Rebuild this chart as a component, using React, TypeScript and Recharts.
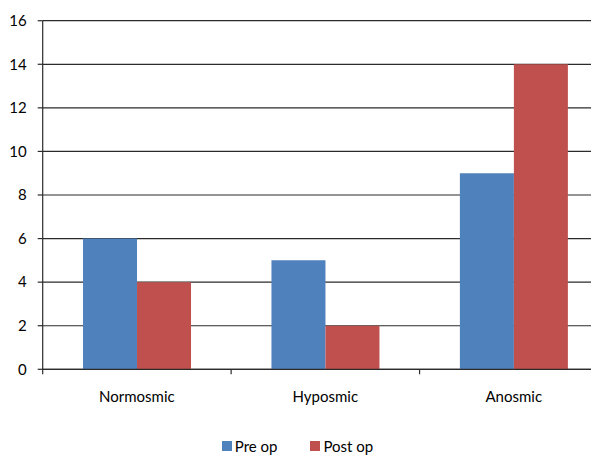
import React from 'react';
import { BarChart, Bar, XAxis, YAxis, CartesianGrid, Legend } from 'recharts';

const categories = ['Normosmic', 'Hyposmic', 'Anosmic'];
const preOp = [6, 5, 9];
const postOp = [4, 2, 14];
const yTicks = [0, 2, 4, 6, 8, 10, 12, 14, 16];
const seriesOrder = ['pre', 'post'];
const seriesNames: Record<string, string> = { pre: 'Pre op', post: 'Post op' };
const colors: Record<string, string> = { pre: '#4F81BD', post: '#C0504D' };

const data = categories.map((c, i) => ({ name: c, pre: preOp[i], post: postOp[i] }));

const FONT = 'Lato, "Open Sans", sans-serif';
const AXIS = '#2b2b2b';

const XTick = (props: any) => {
  const { x, y, payload, width } = props;
  const off = payload && typeof payload.offset === 'number' && payload.offset > 0
    ? payload.offset
    : (width || 565) / categories.length / 2;
  return (
    <g>
      <line x1={x - off} x2={x - off} y1={y} y2={y + 5} stroke={AXIS} strokeWidth={1.2} />
      <text x={x} y={y + 32.5} textAnchor="middle" fontSize={15} fill="#000" fontFamily={FONT}>
        {payload.value}
      </text>
    </g>
  );
};

const LegendContent = (props: any) => {
  const payload = [...(props.payload || [])].sort(
    (a: any, b: any) => seriesOrder.indexOf(a.dataKey) - seriesOrder.indexOf(b.dataKey)
  );
  return (
    <div style={{ height: 30, paddingTop: 12, boxSizing: 'border-box', display: 'flex', justifyContent: 'center', alignItems: 'center', fontFamily: FONT, fontSize: 15, color: '#000', lineHeight: '18px' }}>
      {payload.map((p: any, i: number) => (
        <div key={i} style={{ display: 'flex', alignItems: 'center', marginRight: i === 0 ? 33 : 0 }}>
          <span style={{ display: 'inline-block', width: 10, height: 10, background: p.color, marginRight: 3 }} />
          <span>{p.value}</span>
        </div>
      ))}
    </div>
  );
};

export default function App() {
  return (
    <div style={{ width: 591, height: 447, overflow: 'hidden', position: 'relative' }}>
      <BarChart
        width={600}
        height={447}
        data={data}
        margin={{ top: 12.7, right: 0, left: 0, bottom: 0 }}
        barCategoryGap="21.4%"
        barGap={0}
        style={{ fontFamily: FONT }}
      >
        <CartesianGrid vertical={false} stroke={AXIS} strokeWidth={1.2} />
        <XAxis
          dataKey="name"
          height={55.7}
          tickLine={false}
          tickSize={0}
          tickMargin={0}
          axisLine={{ stroke: AXIS, strokeWidth: 1.2 }}
          tick={<XTick />}
          interval={0}
        />
        <YAxis
          width={34.7}
          domain={[0, 16]}
          ticks={yTicks}
          interval={0}
          tickSize={5}
          tickMargin={11}
          axisLine={{ stroke: AXIS, strokeWidth: 1.2 }}
          tickLine={{ stroke: AXIS, strokeWidth: 1.2 }}
          tick={{ fontSize: 15, fill: '#000', fontFamily: FONT }}
        />
        <Legend
          verticalAlign="bottom"
          content={<LegendContent />}
          wrapperStyle={{ width: 579, left: 0 }}
        />
        <Bar dataKey="pre" name={seriesNames.pre} fill={colors.pre} isAnimationActive={false} />
        <Bar dataKey="post" name={seriesNames.post} fill={colors.post} isAnimationActive={false} />
      </BarChart>
    </div>
  );
}
